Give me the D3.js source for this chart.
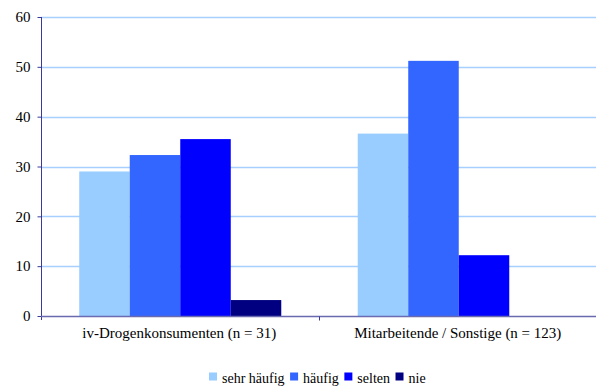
<!DOCTYPE html>
<html>
<head>
<meta charset="utf-8">
<script src="https://cdn.jsdelivr.net/npm/d3@7"></script>
<style>
  html, body { margin: 0; padding: 0; background: #fff; }
  svg { display: block; }
</style>
</head>
<body>
<svg id="chart" width="596" height="388"></svg>
<script>
// Gruppen und Antwortkategorien (Prozent)
const groups = ["iv-Drogenkonsumenten (n = 31)", "Mitarbeitende / Sonstige (n = 123)"];
const series = ["sehr häufig", "häufig", "selten", "nie"];
const colors = ["#99CCFF", "#3366FF", "#0000FF", "#000080"];
const drogenValues = [29.0, 32.3, 35.5, 3.2];
const mitarbeitendeValues = [36.6, 51.2, 12.2, 0];
const yTicks = [0, 10, 20, 30, 40, 50, 60];

const values = [drogenValues, mitarbeitendeValues];
const FONT = "Liberation Serif, Times New Roman, serif";

const svg = d3.select("#chart");
const x0 = 41, x1 = 598;
const yTop = 17, yBottom = 316;

const x = d3.scaleBand().domain(groups).range([x0, x1]);
const xs = d3.scaleBand().domain(series).range([0, x.bandwidth()]).paddingOuter(0.757);
const y = d3.scaleLinear().domain([0, 60]).range([yBottom, yTop]);

// Gitterlinien
svg.append("g")
  .selectAll("line")
  .data(yTicks.filter(d => d > 0))
  .join("line")
  .attr("x1", x0).attr("x2", x1)
  .attr("y1", d => Math.round(y(d)) + 0.5).attr("y2", d => Math.round(y(d)) + 0.5)
  .attr("stroke", "#A8D0FF").attr("stroke-width", 1.3);

// Balken
const gBars = svg.append("g");
groups.forEach((g, gi) => {
  gBars.selectAll(null)
    .data(series.map((s, si) => ({ s, si, v: values[gi][si] })))
    .join("rect")
    .attr("x", d => x(g) + xs(d.s))
    .attr("width", xs.bandwidth())
    .attr("y", d => y(d.v))
    .attr("height", d => y(0) - y(d.v))
    .attr("fill", d => colors[d.si]);
});

// Y-Achse
const yAxis = d3.axisLeft(y).tickValues(yTicks).tickSize(4).tickSizeOuter(0).tickPadding(7);
const ya = svg.append("g").attr("transform", `translate(${x0 + 0.5},0)`).call(yAxis);
ya.attr("font-family", null).attr("font-size", null);
ya.select(".domain").attr("stroke", "#3A3A9A").attr("d", `M0,${y(60)}V${y(0) + 4}`);
ya.selectAll(".tick line").attr("stroke", "#3A3A9A");
ya.selectAll(".tick text")
  .attr("fill", "#000")
  .style("font-family", FONT)
  .style("font-size", "15px");

// X-Achse
const xa = svg.append("g").attr("transform", `translate(0,${Math.round(y(0)) + 0.5})`);
xa.append("line").attr("x1", x0).attr("x2", x1).attr("stroke", "#6A6AB0").attr("stroke-width", 1.5);
xa.selectAll(".sep")
  .data(groups.slice(1))
  .join("line")
  .attr("x1", d => x(d)).attr("x2", d => x(d))
  .attr("y1", 0).attr("y2", 4)
  .attr("stroke", "#3A3A9A");
xa.selectAll(".lbl")
  .data(groups)
  .join("text")
  .attr("x", d => x(d) + x.bandwidth() / 2 - 1)
  .attr("y", 21)
  .attr("text-anchor", "middle")
  .style("font-family", FONT)
  .style("font-size", "15px")
  .text(d => d);

// Legende
const legend = svg.append("g").attr("transform", "translate(0,376.5)");
let lx = 209;
series.forEach((s, i) => {
  const item = legend.append("g").attr("transform", `translate(${lx},0)`);
  item.append("rect").attr("x", 0).attr("y", -4).attr("width", 8).attr("height", 8).attr("fill", colors[i]);
  const t = item.append("text").attr("x", 13).attr("y", 6.5)
    .style("font-family", FONT).style("font-size", "14px").text(s);
  lx += 13 + t.node().getComputedTextLength() + 5.5;
});
</script>
</body>
</html>
